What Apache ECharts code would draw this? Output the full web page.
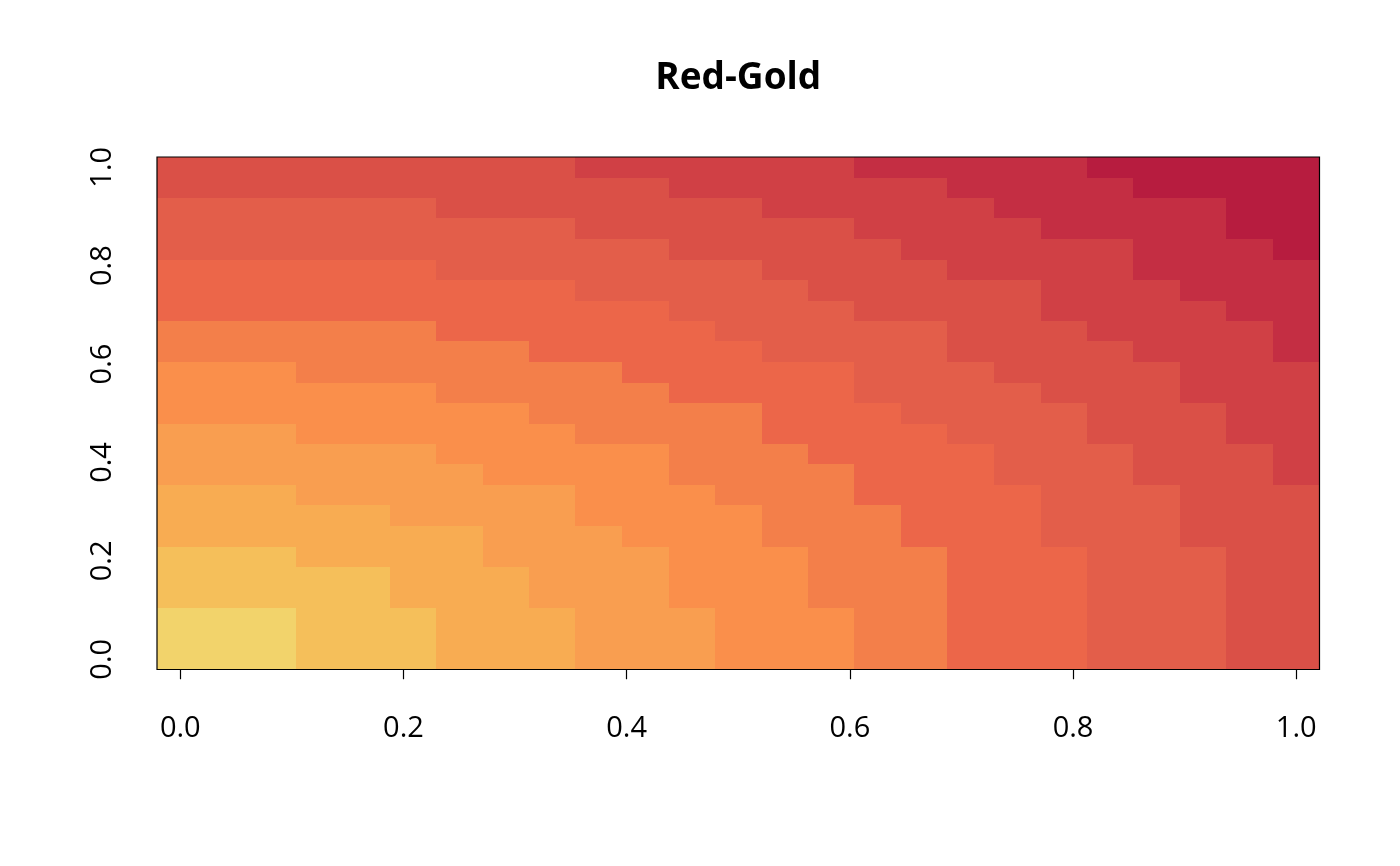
<!DOCTYPE html>
<html>
<head>
<meta charset="utf-8">
<script src="https://cdn.jsdelivr.net/npm/echarts@6/dist/echarts.min.js"></script>
<style>
html,body{margin:0;padding:0;background:#ffffff;}
#chart{width:1400px;height:866px;}
</style>
</head>
<body>
<div id="chart"></div>
<script>
// ---- data ----
const titleText = 'Red-Gold';
const xValues = [0, 0.0417, 0.0833, 0.125, 0.1667, 0.2083, 0.25, 0.2917, 0.3333, 0.375, 0.4167, 0.4583, 0.5,
                 0.5417, 0.5833, 0.625, 0.6667, 0.7083, 0.75, 0.7917, 0.8333, 0.875, 0.9167, 0.9583, 1];
const yValues = [0, 0.0417, 0.0833, 0.125, 0.1667, 0.2083, 0.25, 0.2917, 0.3333, 0.375, 0.4167, 0.4583, 0.5,
                 0.5417, 0.5833, 0.625, 0.6667, 0.7083, 0.75, 0.7917, 0.8333, 0.875, 0.9167, 0.9583, 1];
const tickValues = [0, 0.2, 0.4, 0.6, 0.8, 1.0];
const tickLabels = ['0.0', '0.2', '0.4', '0.6', '0.8', '1.0'];
const palette = ['#F2D36B', '#F5BF5A', '#F8AC52', '#F99E50', '#FA8F4B', '#F37F4A',
                 '#EC6649', '#E35E4A', '#DA5047', '#D04045', '#C42E43', '#B71C3F'];
// colour level of each cell; first row is y = 0, each row runs x = 0 .. 1
const zLevels = [
  [1,1,1,2,2,2,3,3,3,4,4,4,5,5,5,6,6,7,7,7,8,8,8,9,9],
  [1,1,1,2,2,2,3,3,3,4,4,4,5,5,5,6,6,7,7,7,8,8,8,9,9],
  [1,1,1,2,2,2,3,3,3,4,4,4,5,5,5,6,6,7,7,7,8,8,8,9,9],
  [2,2,2,2,2,3,3,3,4,4,4,5,5,5,6,6,6,7,7,7,8,8,8,9,9],
  [2,2,2,2,2,3,3,3,4,4,4,5,5,5,6,6,6,7,7,7,8,8,8,9,9],
  [2,2,2,3,3,3,3,4,4,4,4,5,5,5,6,6,6,7,7,7,8,8,8,9,9],
  [3,3,3,3,3,3,3,4,4,4,5,5,5,6,6,6,7,7,7,8,8,8,9,9,9],
  [3,3,3,3,3,4,4,4,4,5,5,5,5,6,6,6,7,7,7,8,8,8,9,9,9],
  [3,3,3,4,4,4,4,4,4,5,5,5,6,6,6,7,7,7,7,8,8,8,9,9,9],
  [4,4,4,4,4,4,4,5,5,5,5,6,6,6,6,7,7,7,8,8,8,9,9,9,10],
  [4,4,4,4,4,4,5,5,5,5,5,6,6,6,7,7,7,7,8,8,8,9,9,9,10],
  [4,4,4,5,5,5,5,5,5,6,6,6,6,7,7,7,7,8,8,8,9,9,9,10,10],
  [5,5,5,5,5,5,5,5,6,6,6,6,6,7,7,7,8,8,8,8,9,9,9,10,10],
  [5,5,5,5,5,5,6,6,6,6,6,7,7,7,7,8,8,8,8,9,9,9,10,10,10],
  [5,5,5,6,6,6,6,6,6,6,7,7,7,7,7,8,8,8,9,9,9,9,10,10,10],
  [6,6,6,6,6,6,6,6,7,7,7,7,7,8,8,8,8,9,9,9,9,10,10,10,11],
  [6,6,6,6,6,6,7,7,7,7,7,7,8,8,8,8,8,9,9,9,10,10,10,10,11],
  [7,7,7,7,7,7,7,7,7,7,7,8,8,8,8,9,9,9,9,10,10,10,10,11,11],
  [7,7,7,7,7,7,7,7,7,8,8,8,8,8,9,9,9,9,9,10,10,10,11,11,11],
  [7,7,7,7,7,7,8,8,8,8,8,8,8,9,9,9,9,10,10,10,10,11,11,11,11],
  [8,8,8,8,8,8,8,8,8,8,8,9,9,9,9,9,10,10,10,10,10,11,11,11,12],
  [8,8,8,8,8,8,8,8,8,9,9,9,9,9,9,10,10,10,10,11,11,11,11,12,12],
  [8,8,8,8,8,8,9,9,9,9,9,9,9,10,10,10,10,10,11,11,11,11,11,12,12],
  [9,9,9,9,9,9,9,9,9,9,9,10,10,10,10,10,10,11,11,11,11,12,12,12,12],
  [9,9,9,9,9,9,9,9,9,10,10,10,10,10,10,11,11,11,11,11,12,12,12,12,12]
];

// ---- cell edges (midpoints between grid values, as image() does) ----
function edges(v) {
  const e = [];
  e.push(v[0] - (v[1] - v[0]) / 2);
  for (let i = 0; i < v.length - 1; i++) e.push((v[i] + v[i + 1]) / 2);
  e.push(v[v.length - 1] + (v[v.length - 1] - v[v.length - 2]) / 2);
  return e;
}
const xEdges = edges(xValues);
const yEdges = edges(yValues);

const cells = [];
for (let j = 0; j < yValues.length; j++) {
  for (let i = 0; i < xValues.length; i++) {
    cells.push([xValues[i], yValues[j], zLevels[j][i], xEdges[i], xEdges[i + 1], yEdges[j], yEdges[j + 1]]);
  }
}

// ---- layout ----
const box = {left: 157, top: 157, width: 1162.5, height: 512.5};
const xSpan = xEdges[xEdges.length - 1] - xEdges[0];
const ySpan = yEdges[yEdges.length - 1] - yEdges[0];
const pxX = box.width / xSpan;
const pxY = box.height / ySpan;
const inner = {
  left: box.left + (0 - xEdges[0]) * pxX,
  width: 1 * pxX,
  top: box.top + (yEdges[yEdges.length - 1] - 1) * pxY,
  height: 1 * pxY
};
const xOffset = (box.top + box.height) - (inner.top + inner.height);
const yOffset = inner.left - box.left;

const FONT = '"Open Sans", "Noto Sans", "DejaVu Sans", sans-serif';
const chart = echarts.init(document.getElementById('chart'), null, {renderer: 'canvas'});

function labelFor(v) {
  const k = tickValues.findIndex(t => Math.abs(t - v) < 1e-9);
  return k >= 0 ? tickLabels[k] : '';
}

chart.setOption({
  animation: false,
  backgroundColor: '#ffffff',
  grid: [
    {left: box.left, top: box.top, width: box.width, height: box.height,
     show: true, z: 10, backgroundColor: 'transparent', borderColor: '#000000', borderWidth: 1.2,
     containLabel: false},
    {left: inner.left, top: inner.top, width: inner.width, height: inner.height,
     show: false, containLabel: false}
  ],
  xAxis: [
    {gridIndex: 0, type: 'value', min: xEdges[0], max: xEdges[xEdges.length - 1], show: false},
    {gridIndex: 1, type: 'value', min: tickValues[0], max: tickValues[tickValues.length - 1], interval: 0.2,
     position: 'bottom', offset: xOffset,
     axisLine: {show: true, lineStyle: {color: '#000000', width: 1.2}},
     axisTick: {show: true, inside: false, length: 20, lineStyle: {color: '#000000', width: 1.2}},
     axisLabel: {show: true, margin: 45, color: '#000000', fontSize: 29, fontFamily: FONT, formatter: labelFor},
     splitLine: {show: false}}
  ],
  yAxis: [
    {gridIndex: 0, type: 'value', min: yEdges[0], max: yEdges[yEdges.length - 1], show: false},
    {gridIndex: 1, type: 'value', min: tickValues[0], max: tickValues[tickValues.length - 1], interval: 0.2,
     position: 'left', offset: yOffset,
     axisLine: {show: true, lineStyle: {color: '#000000', width: 1.2}},
     axisTick: {show: true, inside: false, length: 19, lineStyle: {color: '#000000', width: 1.2}},
     axisLabel: {show: true, rotate: 90, margin: 40, color: '#000000', fontSize: 29, fontFamily: FONT, formatter: labelFor},
     splitLine: {show: false}}
  ],
  graphic: [
    {type: 'text', z: 20,
     style: {text: titleText, x: box.left + box.width / 2, y: 78, align: 'center', verticalAlign: 'middle',
             font: 'bold 37px ' + FONT, fill: '#000000'}}
  ],
  series: [
    {type: 'custom', xAxisIndex: 0, yAxisIndex: 0, data: cells, clip: true,
     renderItem: function (params, api) {
       const p0 = api.coord([api.value(3), api.value(5)]);
       const p1 = api.coord([api.value(4), api.value(6)]);
       const x0 = Math.round(p0[0]), x1 = Math.round(p1[0]);
       const yb = Math.round(p0[1]), yt = Math.round(p1[1]);
       const color = palette[api.value(2) - 1];
       return {type: 'rect',
               shape: {x: x0, y: yt, width: x1 - x0, height: yb - yt},
               style: {fill: color, lineWidth: 0}};
     }}
  ]
});
</script>
</body>
</html>
